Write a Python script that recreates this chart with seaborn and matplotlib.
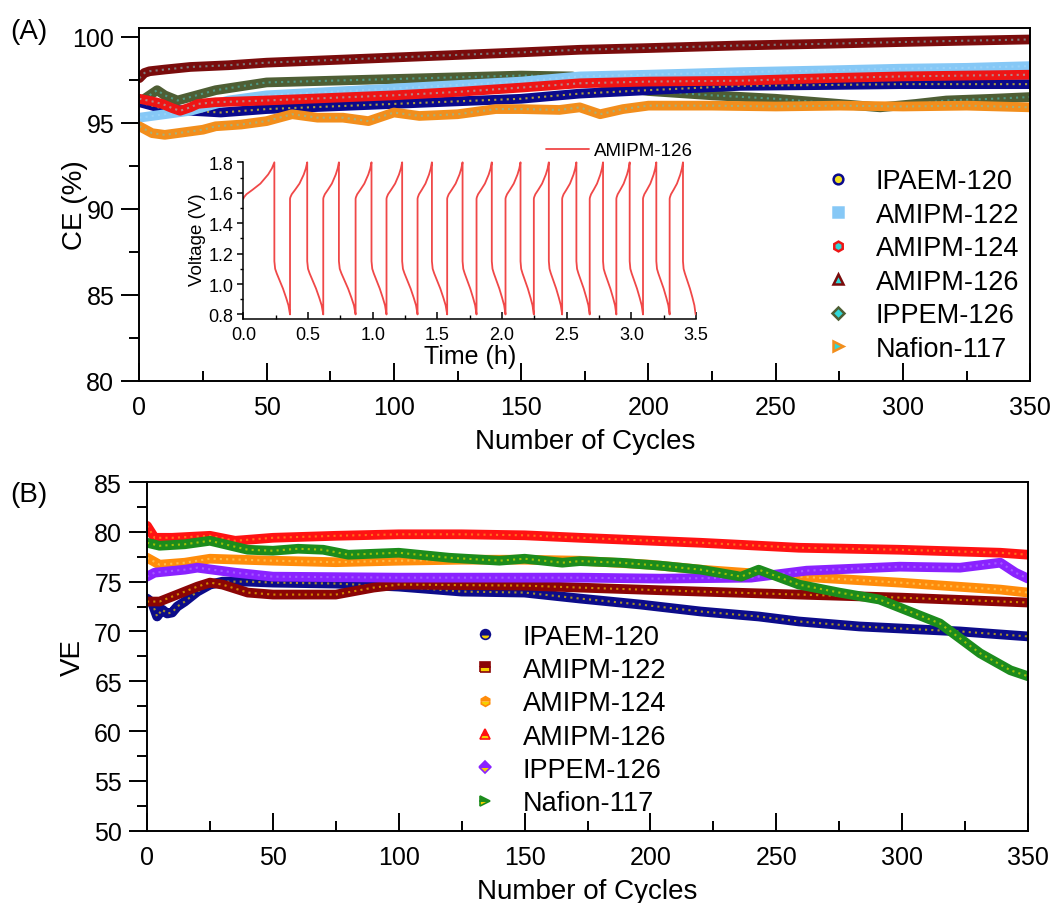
import matplotlib
matplotlib.use("Agg")
import matplotlib.pyplot as plt
import seaborn as sns
import pandas as pd
from matplotlib.lines import Line2D
from matplotlib.ticker import MultipleLocator

# ---------------- data ----------------
names = ["IPAEM-120", "AMIPM-122", "AMIPM-124", "AMIPM-126", "IPPEM-126", "Nafion-117"]

# (A) coulombic efficiency
ce_cycles = {
    "IPAEM-120": [0, 5, 10, 20, 32, 50, 75, 100, 125, 150, 173, 200, 236, 270, 299, 325, 350],
    "AMIPM-122": [0, 10, 20, 35, 50, 75, 100, 125, 150, 173, 200, 236, 270, 299, 325, 350],
    "AMIPM-124": [0, 5, 9, 13, 16, 20, 23, 30, 50, 75, 100, 125, 150, 173, 200, 236, 270, 299, 325, 350],
    "AMIPM-126": [0, 2, 4, 10, 20, 35, 50, 75, 100, 125, 150, 173, 200, 236, 270, 299, 325, 350],
    "IPPEM-126": [0, 4, 7, 10, 15, 20, 30, 50, 75, 100, 125, 150, 170, 185, 200, 225, 250, 275,
                  291, 305, 317, 335, 350],
    "Nafion-117": [0, 5, 10, 15, 20, 25, 30, 40, 50, 60, 70, 80, 90, 100, 110, 125, 140, 150, 165,
                   173, 181, 190, 200, 225, 250, 275, 300, 325, 350],
}
ce_values = {
    "IPAEM-120": [96.2, 96.0, 95.8, 95.7, 95.6, 95.8, 95.95, 96.1, 96.25, 96.4, 96.7, 96.9, 97.15,
                  97.2, 97.25, 97.25, 97.25],
    "AMIPM-122": [95.3, 95.5, 95.7, 96.3, 96.6, 96.8, 97.0, 97.2, 97.4, 97.7, 97.8, 97.95, 98.05,
                  98.15, 98.2, 98.3],
    "AMIPM-124": [96.4, 96.25, 96.1, 95.85, 95.7, 95.9, 96.1, 96.2, 96.3, 96.45, 96.6, 96.8, 97.05,
                  97.3, 97.4, 97.45, 97.6, 97.7, 97.75, 97.8],
    "AMIPM-126": [97.6, 97.9, 98.0, 98.1, 98.25, 98.35, 98.5, 98.65, 98.8, 98.95, 99.1, 99.25, 99.35,
                  99.5, 99.6, 99.7, 99.78, 99.85],
    "IPPEM-126": [96.2, 96.6, 96.9, 96.6, 96.3, 96.5, 96.9, 97.35, 97.45, 97.55, 97.65, 97.75, 97.7,
                  97.2, 96.85, 96.6, 96.4, 96.1, 95.9, 96.1, 96.3, 96.4, 96.5],
    "Nafion-117": [94.8, 94.4, 94.3, 94.4, 94.5, 94.6, 94.8, 94.9, 95.1, 95.5, 95.3, 95.3, 95.1, 95.6,
                   95.4, 95.5, 95.8, 95.8, 95.75, 95.9, 95.5, 95.8, 96.0, 96.0, 95.95, 96.0, 95.95,
                   96.0, 95.9],
}

# (B) voltage efficiency
ve_cycles = {
    "IPAEM-120": [0, 2, 4, 6, 8, 10, 12, 15, 20, 25, 30, 40, 50, 75, 100, 125, 150, 172, 196, 220,
                  243, 259, 283, 299, 323, 339, 350],
    "AMIPM-122": [0, 5, 10, 15, 20, 25, 30, 40, 50, 75, 90, 100, 125, 150, 172, 220, 259, 299, 350],
    "AMIPM-124": [0, 5, 15, 25, 50, 75, 100, 125, 150, 172, 200, 220, 259, 299, 339, 350],
    "AMIPM-126": [0, 3, 10, 25, 35, 50, 75, 100, 125, 150, 172, 220, 259, 299, 339, 350],
    "IPPEM-126": [0, 3, 15, 20, 35, 50, 100, 150, 172, 204, 240, 262, 299, 323, 339, 345, 350],
    "Nafion-117": [0, 5, 15, 25, 30, 40, 50, 60, 70, 80, 100, 120, 140, 150, 165, 172, 188, 204, 220,
                   236, 243, 259, 275, 291, 303, 315, 331, 343, 350],
}
ve_values = {
    "IPAEM-120": [73.3, 72.9, 71.5, 72.2, 71.8, 71.9, 72.5, 73.0, 74.0, 74.7, 75.0, 75.0, 74.9, 74.8,
                  74.5, 74.0, 73.9, 73.3, 72.7, 72.0, 71.5, 71.0, 70.5, 70.3, 70.0, 69.7, 69.5],
    "AMIPM-122": [73.0, 73.0, 73.5, 74.0, 74.5, 74.9, 74.7, 73.9, 73.7, 73.7, 74.4, 74.7, 74.65,
                  74.6, 74.4, 74.0, 73.7, 73.4, 72.9],
    "AMIPM-124": [77.4, 76.7, 76.9, 77.3, 77.1, 76.95, 77.1, 77.2, 77.2, 77.1, 76.7, 76.2, 75.5,
                  74.9, 74.2, 73.9],
    "AMIPM-126": [80.6, 79.4, 79.4, 79.6, 79.1, 79.4, 79.6, 79.75, 79.75, 79.65, 79.4, 78.9, 78.4,
                  78.2, 77.9, 77.7],
    "IPPEM-126": [75.5, 75.9, 76.2, 76.4, 75.9, 75.5, 75.4, 75.4, 75.4, 75.3, 75.4, 76.1, 76.5,
                  76.4, 76.9, 75.9, 75.3],
    "Nafion-117": [78.9, 78.6, 78.75, 79.1, 78.8, 78.2, 78.1, 78.3, 78.2, 77.7, 77.9, 77.4, 77.1,
                   77.3, 76.9, 77.06, 76.9, 76.6, 76.2, 75.5, 76.2, 74.7, 73.9, 73.2, 72.0, 70.8,
                   67.8, 66.1, 65.5],
}

# inset: AMIPM-126 charge/discharge curve
peak_t = [0.240, 0.494, 0.739, 0.991, 1.228, 1.458, 1.695, 1.921, 2.143, 2.362, 2.575, 2.781,
          2.987, 3.193, 3.399]
trough_t = [0.361, 0.618, 0.868, 1.107, 1.347, 1.576, 1.803, 2.027, 2.246, 2.465, 2.678, 2.884,
            3.090, 3.296, 3.497]
charge_frac = [0.0, 0.02, 0.1, 0.3, 0.55, 0.8, 0.92, 1.0]
charge_volt = [1.56, 1.57, 1.59, 1.62, 1.66, 1.72, 1.76, 1.80]
dis_frac = [0.0, 0.05, 0.15, 0.35, 0.55, 0.75, 0.9, 1.0]
dis_volt = [1.15, 1.10, 1.07, 1.02, 0.97, 0.91, 0.86, 0.80]

# ---------------- styles ----------------
ce_style = {
    "IPAEM-120": dict(color="#0A0A8C", inner="#F2DC20", marker="o", mfc="#F2E020"),
    "AMIPM-122": dict(color="#86C8F6", inner="#9FD6FA", marker="s", mfc="#86C8F6"),
    "AMIPM-124": dict(color="#EE1515", inner="#9FB8B8", marker="h", mfc="#30D8D8"),
    "AMIPM-126": dict(color="#7A0C0C", inner="#7FAAAA", marker="^", mfc="#30D8D8"),
    "IPPEM-126": dict(color="#4E5E34", inner="#4FB3A8", marker="D", mfc="#30D8D8"),
    "Nafion-117": dict(color="#F28E1C", inner="#86BFA0", marker=">", mfc="#30D8D8"),
}
ve_style = {
    "IPAEM-120": dict(color="#0C0C8A", inner="#E8C800", marker="o"),
    "AMIPM-122": dict(color="#8B0505", inner="#F0C000", marker="s"),
    "AMIPM-124": dict(color="#FF8C0A", inner="#FFD060", marker="h"),
    "AMIPM-126": dict(color="#FF1212", inner="#FF9A20", marker="^"),
    "IPPEM-126": dict(color="#8A22FF", inner="#B070FF", marker="D"),
    "Nafion-117": dict(color="#1C8C1C", inner="#D8D800", marker=">"),
}
# drawing order in (A): the olive band sits under the others
ce_draw_order = ["IPPEM-126", "IPAEM-120", "AMIPM-122", "AMIPM-124", "AMIPM-126", "Nafion-117"]

sns.set_theme(style="ticks")
plt.rcParams["font.family"] = ["Liberation Sans", "DejaVu Sans"]
plt.rcParams["axes.linewidth"] = 1.4
for key in ["text.color", "axes.labelcolor", "xtick.color", "ytick.color", "axes.edgecolor"]:
    plt.rcParams[key] = "black"

fig = plt.figure(figsize=(10.57, 9.04), dpi=100)
ax_a = fig.add_axes([0.1318, 0.5778, 0.8430, 0.3898])
ax_b = fig.add_axes([0.1391, 0.0800, 0.8335, 0.3857])


def draw_band(ax, x, y, color, inner):
    df = pd.DataFrame({"cycle": x, "value": y})
    sns.lineplot(data=df, x="cycle", y="value", ax=ax, color=color, lw=7,
                 estimator=None, sort=False, solid_capstyle="round", solid_joinstyle="round")
    sns.lineplot(data=df, x="cycle", y="value", ax=ax, color=inner, lw=1.5,
                 estimator=None, sort=False, linestyle=(0, (1.0, 2.0)), alpha=0.7)


def style_axes(ax):
    for s in ax.spines.values():
        s.set_linewidth(1.4)
        s.set_color("black")
    ax.xaxis.set_major_locator(MultipleLocator(50))
    ax.xaxis.set_minor_locator(MultipleLocator(25))
    ax.yaxis.set_minor_locator(MultipleLocator(2.5))
    ax.tick_params(axis="y", which="major", direction="out", length=13, width=1.4,
                   labelsize=18, pad=5, left=True, right=False)
    ax.tick_params(axis="y", which="minor", direction="out", length=7, width=1.4,
                   left=True, right=False)
    ax.tick_params(axis="x", which="major", direction="in", length=13, width=1.4,
                   labelsize=18, pad=10, bottom=True, top=False)
    ax.tick_params(axis="x", which="minor", direction="in", length=7, width=1.4,
                   bottom=True, top=False)
    ax.set_xlim(0, 350)


# ---- panel A ----
for n in ce_draw_order:
    st = ce_style[n]
    draw_band(ax_a, ce_cycles[n], ce_values[n], st["color"], st["inner"])
style_axes(ax_a)
ax_a.set_ylim(80, 100.5)
ax_a.set_yticks([80, 85, 90, 95, 100])
ax_a.set_xlabel("Number of Cycles", fontsize=20)
ax_a.set_ylabel("CE (%)", fontsize=20)
ax_a.xaxis.set_label_coords(0.5, -0.135)
ax_a.yaxis.set_label_coords(-0.058, 0.5)

handles_a = [Line2D([], [], ls="none", marker=ce_style[n]["marker"], ms=7 if n != "IPPEM-126" else 6,
                    mec=ce_style[n]["color"], mfc=ce_style[n]["mfc"], mew=1.8) for n in names]
ax_a.legend(handles_a, names, loc="upper left", bbox_to_anchor=(0.780, 0.813),
            bbox_transform=fig.transFigure, frameon=False, fontsize=19.5, labelspacing=0.28,
            handlelength=1.0, handletextpad=0.9, borderpad=0, borderaxespad=0)

# ---- inset ----
t_pts, v_pts = [], []
start = 0.0
for p, tr in zip(peak_t, trough_t):
    for f, v in zip(charge_frac, charge_volt):
        t_pts.append(start + f * (p - start))
        v_pts.append(v)
    for f, v in zip(dis_frac, dis_volt):
        t_pts.append(p + f * (tr - p))
        v_pts.append(v)
    start = tr
inset_df = pd.DataFrame({"time": t_pts, "voltage": v_pts})

ax_in = fig.add_axes([0.2302, 0.6460, 0.4283, 0.1784])
ax_in.patch.set_alpha(0)
sns.lineplot(data=inset_df, x="time", y="voltage", ax=ax_in, color="#F04848", lw=1.3,
             estimator=None, sort=False, label="AMIPM-126")
ax_in.set_xlim(0, 3.5)
ax_in.set_ylim(0.77, 1.83)
ax_in.set_yticks([0.8, 1.0, 1.2, 1.4, 1.6, 1.8])
ax_in.set_xticks([0.0, 0.5, 1.0, 1.5, 2.0, 2.5, 3.0, 3.5])
ax_in.xaxis.set_minor_locator(MultipleLocator(0.25))
ax_in.yaxis.set_minor_locator(MultipleLocator(0.1))
for s in ["top", "right"]:
    ax_in.spines[s].set_visible(False)
for s in ["left", "bottom"]:
    ax_in.spines[s].set_linewidth(1.1)
ax_in.spines["left"].set_bounds(0.77, 1.8)
ax_in.tick_params(axis="y", which="major", direction="out", length=4, width=1.1,
                  labelsize=13, pad=3)
ax_in.tick_params(axis="y", which="minor", direction="out", length=2, width=1.0)
ax_in.tick_params(axis="x", which="major", direction="in", length=5, width=1.1,
                  labelsize=13, pad=5)
ax_in.tick_params(axis="x", which="minor", direction="in", length=3, width=1.0)
ax_in.set_xlabel("Time (h)", fontsize=18, labelpad=1)
ax_in.set_ylabel("Voltage (V)", fontsize=13.5, labelpad=2)
ax_in.legend(loc="center right", bbox_to_anchor=(693 / 1057, 1 - 151.7 / 904),
             bbox_transform=fig.transFigure, frameon=False, fontsize=13.5,
             handlelength=2.3, handletextpad=0.25, borderpad=0, borderaxespad=0)

# ---- panel B ----
for n in names:
    st = ve_style[n]
    draw_band(ax_b, ve_cycles[n], ve_values[n], st["color"], st["inner"])
style_axes(ax_b)
ax_b.set_ylim(50, 85)
ax_b.set_yticks([50, 55, 60, 65, 70, 75, 80, 85])
ax_b.set_xlabel("Number of Cycles", fontsize=20)
ax_b.set_ylabel("VE", fontsize=20)
ax_b.xaxis.set_label_coords(0.5, -0.135)
ax_b.yaxis.set_label_coords(-0.069, 0.5)

handles_b = [Line2D([], [], ls="none", marker=ve_style[n]["marker"], ms=7 if n != "IPPEM-126" else 6,
                    mec=ve_style[n]["color"], mfc="#F5D000", mfcalt=ve_style[n]["color"],
                    fillstyle="bottom", mew=1.2) for n in names]
ax_b.legend(handles_b, names, loc="upper left", bbox_to_anchor=(0.446, 0.309),
            bbox_transform=fig.transFigure, frameon=False, fontsize=19.5, labelspacing=0.27,
            handlelength=1.0, handletextpad=0.9, borderpad=0, borderaxespad=0)

fig.text(10 / 1057, 1 - 32 / 904, "(A)", fontsize=20, va="center", ha="left")
fig.text(10 / 1057, 1 - 495 / 904, "(B)", fontsize=20, va="center", ha="left")

fig.savefig("out.png", dpi=100)
